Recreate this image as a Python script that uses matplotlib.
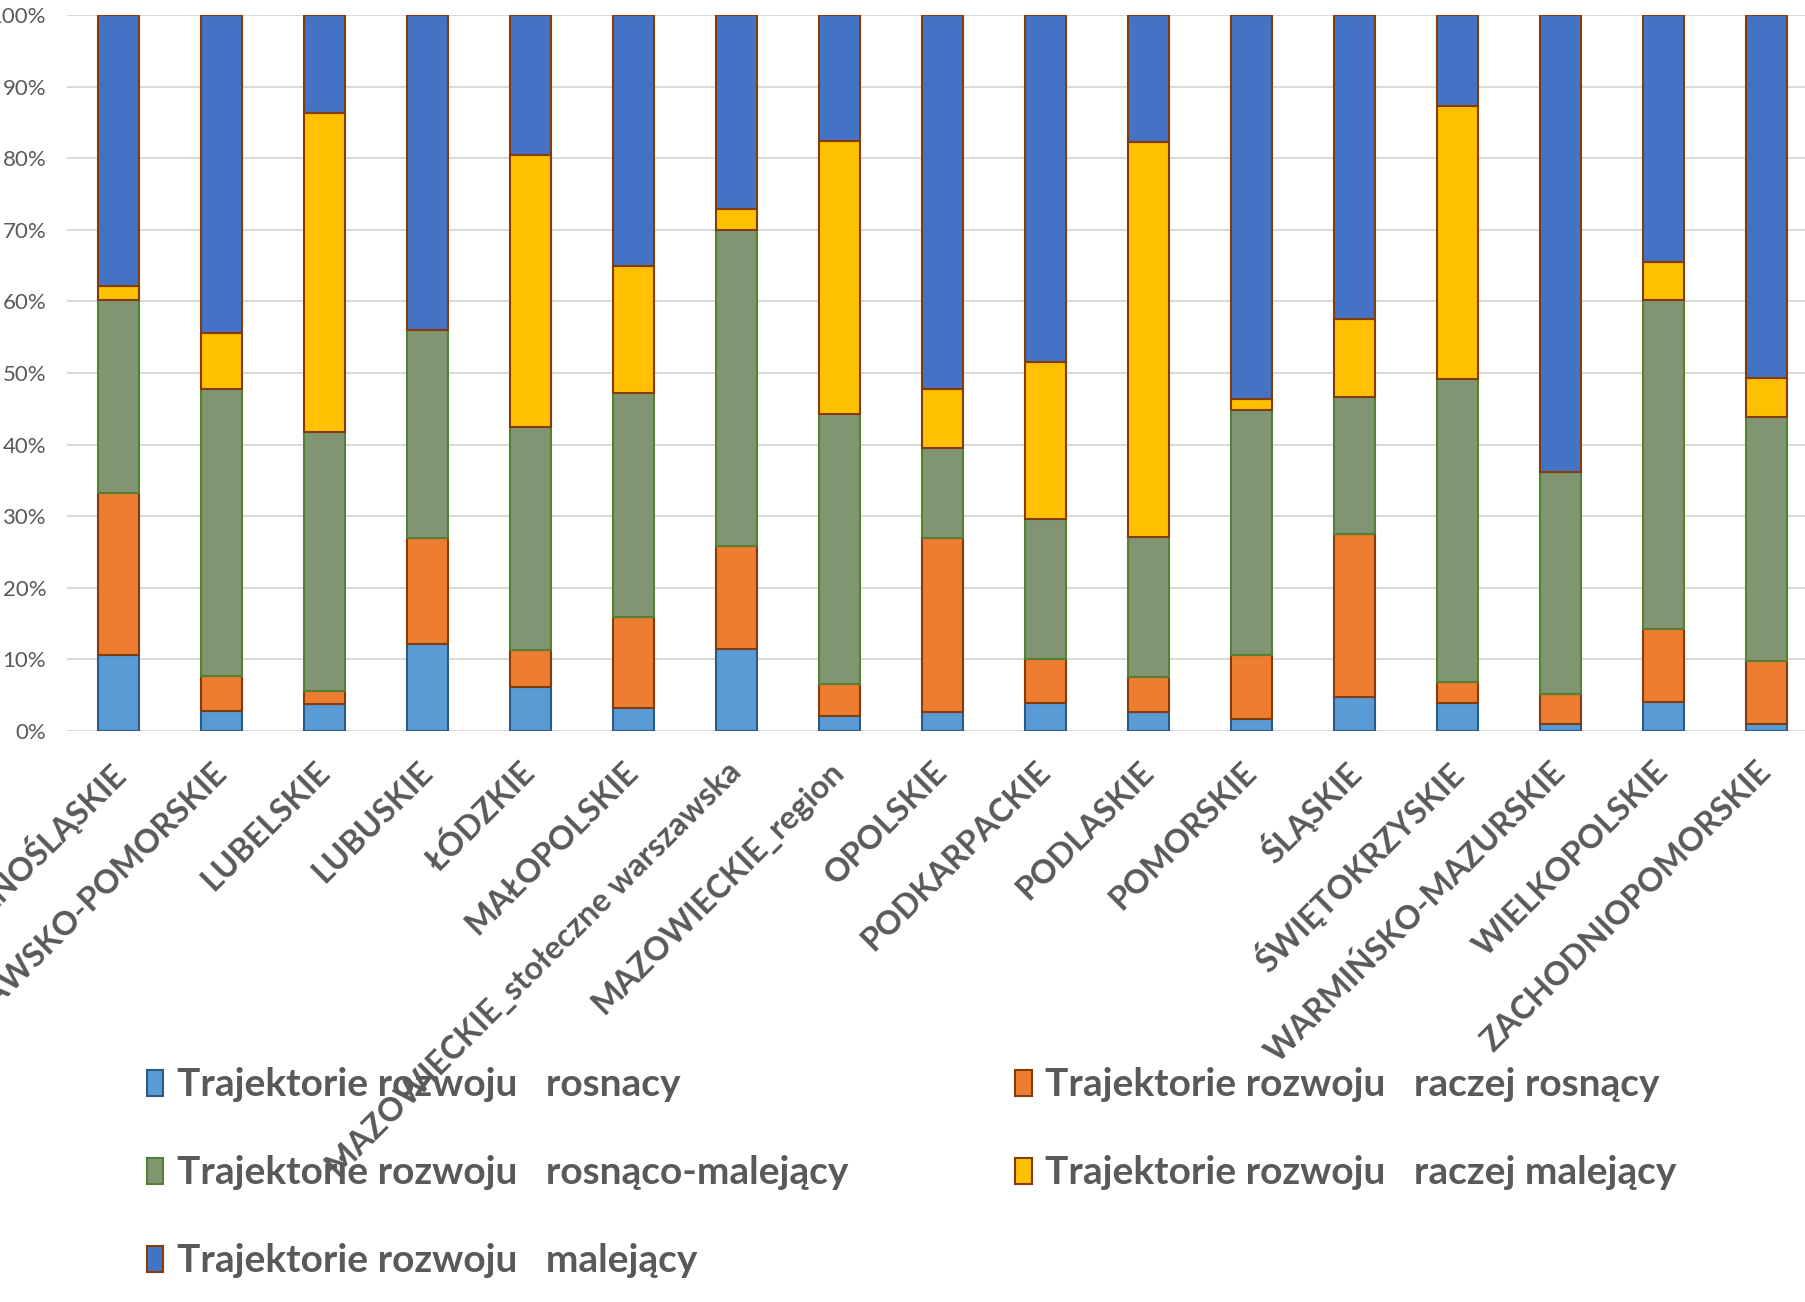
import matplotlib
matplotlib.use("Agg")
import matplotlib.pyplot as plt
import numpy as np

regions = ["DOLNOŚLĄSKIE", "KUJAWSKO-POMORSKIE", "LUBELSKIE", "LUBUSKIE", "ŁÓDZKIE",
           "MAŁOPOLSKIE", "MAZOWIECKIE_stołeczne warszawska", "MAZOWIECKIE_region",
           "OPOLSKIE", "PODKARPACKIE", "PODLASKIE", "POMORSKIE", "ŚLĄSKIE",
           "ŚWIĘTOKRZYSKIE", "WARMIŃSKO-MAZURSKIE", "WIELKOPOLSKIE", "ZACHODNIOPOMORSKIE"]

# shares in %, per trajectory type
rosnacy = [10.6, 2.8, 3.7, 12.1, 6.1, 3.2, 11.4, 2.1, 2.7, 3.9, 2.6, 1.6, 4.8, 3.9, 1.0, 4.0, 1.0]
raczej_rosnacy = [22.6, 4.9, 1.9, 14.8, 5.2, 12.7, 14.4, 4.5, 24.2, 6.1, 5.0, 9.0, 22.7, 3.0, 4.2, 10.2, 8.7]
rosnaco_malejacy = [27.0, 40.1, 36.1, 29.1, 31.1, 31.3, 44.2, 37.7, 12.6, 19.6, 19.5, 34.2, 19.2, 42.2, 31.0, 46.0, 34.1]
raczej_malejacy = [2.0, 7.8, 44.6, 0.0, 38.0, 17.7, 2.9, 38.1, 8.3, 21.9, 55.2, 1.6, 10.8, 38.2, 0.0, 5.3, 5.5]
malejacy = [37.8, 44.4, 13.7, 44.0, 19.6, 35.1, 27.1, 17.6, 52.2, 48.5, 17.7, 53.6, 42.5, 12.7, 63.8, 34.5, 50.7]

series = [
    ("Trajektorie rozwoju   rosnacy", rosnacy, "#5B9BD5", "#2C5985"),
    ("Trajektorie rozwoju   rosnąco-malejący", rosnaco_malejacy, "#819572", "#548235"),
    ("Trajektorie rozwoju   malejący", malejacy, "#4472C4", "#843C0C"),
    ("Trajektorie rozwoju   raczej rosnący", raczej_rosnacy, "#ED7D31", "#843C0C"),
    ("Trajektorie rozwoju   raczej malejący", raczej_malejacy, "#FFC000", "#843C0C"),
]
stack_order = [0, 3, 1, 4, 2]

plt.rcParams["font.family"] = ["Lato", "DejaVu Sans"]
txt = "#595959"

fig = plt.figure(figsize=(18.05, 13.02), dpi=100)
ax = fig.add_axes([0.0371, 0.4386, 0.970, 0.5499])

x = np.arange(len(regions))
bottom = np.zeros(len(regions))
handles = [None] * len(series)
for i in stack_order:
    label, vals, fc, ec = series[i]
    vals = np.array(vals) / 100
    handles[i] = ax.bar(x, vals, 0.4, bottom=bottom, color=fc, edgecolor=ec,
                        linewidth=1.5, label=label, zorder=3)
    bottom += vals

ax.set_xlim(-0.5, len(regions) - 0.5)
ax.set_ylim(0, 1)
ax.set_yticks(np.arange(0, 1.01, 0.1))
ax.set_yticklabels([f"{int(v)}%" for v in np.arange(0, 101, 10)], fontsize=16, color=txt)
ax.yaxis.grid(True, color="#D9D9D9", linewidth=1.4, zorder=0)
ax.tick_params(axis="both", length=0)
ax.tick_params(axis="y", pad=15)
for s in ax.spines.values():
    s.set_visible(False)

ax.set_xticks(x)
ax.set_xticklabels(regions, rotation=45, ha="right", va="center", rotation_mode="anchor",
                   fontsize=23.5, fontweight="bold", color=txt)
ax.tick_params(axis="x", pad=26)

fig.legend(handles=handles, loc="upper left", bbox_to_anchor=(0.062, 0.207), ncol=2,
           frameon=False, prop={"weight": "bold", "size": 28},
           handlelength=0.42, handleheight=0.65, handletextpad=0.35,
           columnspacing=4.3, labelspacing=1.36, labelcolor=txt)

plt.savefig("out.png", dpi=100)
